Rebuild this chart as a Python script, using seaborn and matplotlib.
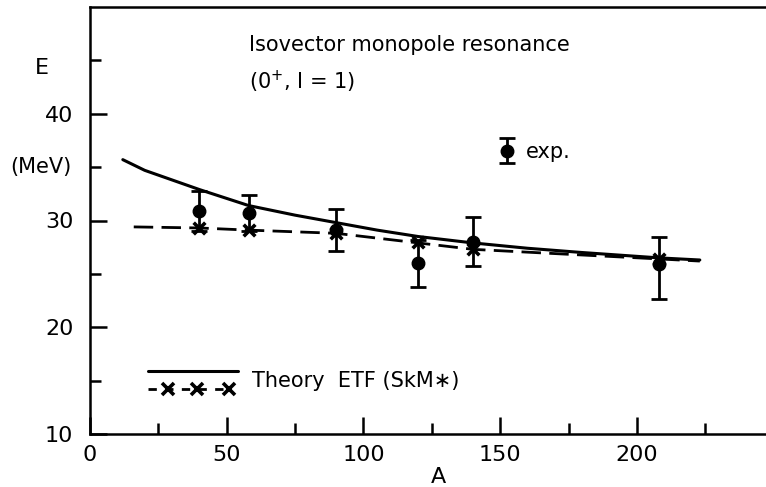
import numpy as np
import pandas as pd
import matplotlib
matplotlib.use("Agg")
import matplotlib.pyplot as plt
import seaborn as sns
from matplotlib.lines import Line2D
from matplotlib.legend_handler import HandlerBase, HandlerErrorbar

# ---- data ----
exp_A = [40, 58, 90, 120, 140, 208]
exp_E = [30.9, 30.7, 29.1, 26.0, 28.0, 25.9]
exp_err_lo = [1.9, 1.7, 2.0, 2.2, 2.3, 3.3]
exp_err_hi = [1.9, 1.7, 2.0, 2.2, 2.3, 2.6]

theo_solid_A = [12, 20, 30, 40, 58, 75, 90, 105, 120, 140, 160, 180, 208, 223]
theo_solid_E = [35.7, 34.7, 33.8, 32.9, 31.4, 30.5, 29.8, 29.1, 28.5, 27.9, 27.4, 27.0, 26.5, 26.3]

theo_dash_A = [16, 40, 58, 90, 120, 140, 170, 208, 223]
theo_dash_E = [29.4, 29.3, 29.1, 28.8, 27.9, 27.3, 26.9, 26.4, 26.2]

nuc_A = [40, 58, 90, 120, 140, 208]
nuc_E = [29.3, 29.1, 28.8, 28.0, 27.3, 26.4]

xticks_major = [0, 50, 100, 150, 200]
xticks_minor = [25, 75, 125, 175, 225]
yticks_major = [10, 20, 30, 40]
yticks_minor = [15, 25, 35, 45]

sns.set_theme(style="ticks")
plt.rcParams['font.family'] = ['DejaVu Sans']
plt.rcParams['text.color'] = 'black'
plt.rcParams['axes.labelcolor'] = 'black'

fig = plt.figure(figsize=(7.66, 4.87), dpi=100)
ax = fig.add_axes([90/766, 53/487, 676/766, 427/487])

solid_df = pd.DataFrame({"A": theo_solid_A, "E": theo_solid_E})
dash_df = pd.DataFrame({"A": theo_dash_A, "E": theo_dash_E})
nuc_df = pd.DataFrame({"A": nuc_A, "E": nuc_E})

sns.lineplot(data=solid_df, x="A", y="E", ax=ax, color="black", lw=2.2, sort=False)
sns.lineplot(data=dash_df, x="A", y="E", ax=ax, color="black", lw=2.0,
             dashes=False, sort=False, linestyle=(0, (7, 3)))
sns.scatterplot(data=nuc_df, x="A", y="E", ax=ax, marker="x", color="black",
                s=70, linewidths=2.6, zorder=4)

eb = ax.errorbar(exp_A, exp_E, yerr=[exp_err_lo, exp_err_hi], fmt="o", color="black",
                 ms=9, elinewidth=2.0, capsize=5.5, capthick=2.0, zorder=5)

ax.set_xlim(0, 247.2)
ax.set_ylim(10, 50)
ax.set_xticks(xticks_major)
ax.set_xticks(xticks_minor, minor=True)
ax.set_yticks(yticks_major)
ax.set_yticks(yticks_minor, minor=True)
ax.tick_params(axis="both", which="major", direction="in", length=12.5, width=1.8,
               labelsize=16, color="black", labelcolor="black")
ax.tick_params(axis="both", which="minor", direction="in", length=8, width=1.8, color="black")
ax.tick_params(axis="x", which="major", pad=8)
ax.tick_params(axis="y", which="major", pad=12)
for s in ["left", "bottom", "top"]:
    ax.spines[s].set_linewidth(1.8)
    ax.spines[s].set_color("black")
ax.spines["right"].set_visible(False)

ax.set_xlabel("A", fontsize=16)
ax.xaxis.set_label_coords((438 - 90) / 676, -0.078)
ax.set_ylabel("")

ax.text(-17.5, 44.3, "E", fontsize=16, ha="center", va="center", clip_on=False)
ax.text(-18.0, 35.0, "(MeV)", fontsize=15, ha="center", va="center", clip_on=False)

ax.text(58, 46.4, "Isovector monopole resonance", fontsize=15, ha="left", va="center")
ax.text(58, 43.0, "(0$^{+}$, I = 1)", fontsize=15, ha="left", va="center")


class StackedHandler(HandlerBase):
    def create_artists(self, legend, orig_handle, xdescent, ydescent, width, height,
                       fontsize, trans):
        yc = height / 2 - ydescent
        off = 6.5
        l1 = Line2D([-xdescent, width - xdescent], [yc + off, yc + off], color="black",
                    lw=2.2, transform=trans)
        xs = [-xdescent + width * f for f in (0.0, 0.22, 0.55, 0.9)]
        l2 = Line2D(xs, [yc - off] * len(xs), color="black", lw=2.0,
                    linestyle=(0, (3, 3)), marker="x", markevery=[1, 2, 3],
                    markersize=8, markeredgewidth=2.6, transform=trans)
        return [l1, l2]


theory_handle = Line2D([], [], color="black")
leg1 = ax.legend([theory_handle], ["Theory  ETF (SkM\u2217)"],
                 handler_map={theory_handle: StackedHandler()},
                 loc="center left", bbox_to_anchor=((148 - 90) / 676, (434 - 381) / 427),
                 frameon=False, fontsize=15, handlelength=4.3, handletextpad=0.7,
                 borderpad=0, borderaxespad=0)
ax.add_artist(leg1)

leg2 = ax.legend([eb], ["exp."], handler_map={type(eb): HandlerErrorbar(yerr_size=0.6)},
                 loc="center left", bbox_to_anchor=((499 - 90) / 676, (434 - 152) / 427),
                 frameon=False, fontsize=15, handlelength=0.8, handletextpad=0.5,
                 borderpad=0, borderaxespad=0)

fig.savefig("out.png", dpi=100)
